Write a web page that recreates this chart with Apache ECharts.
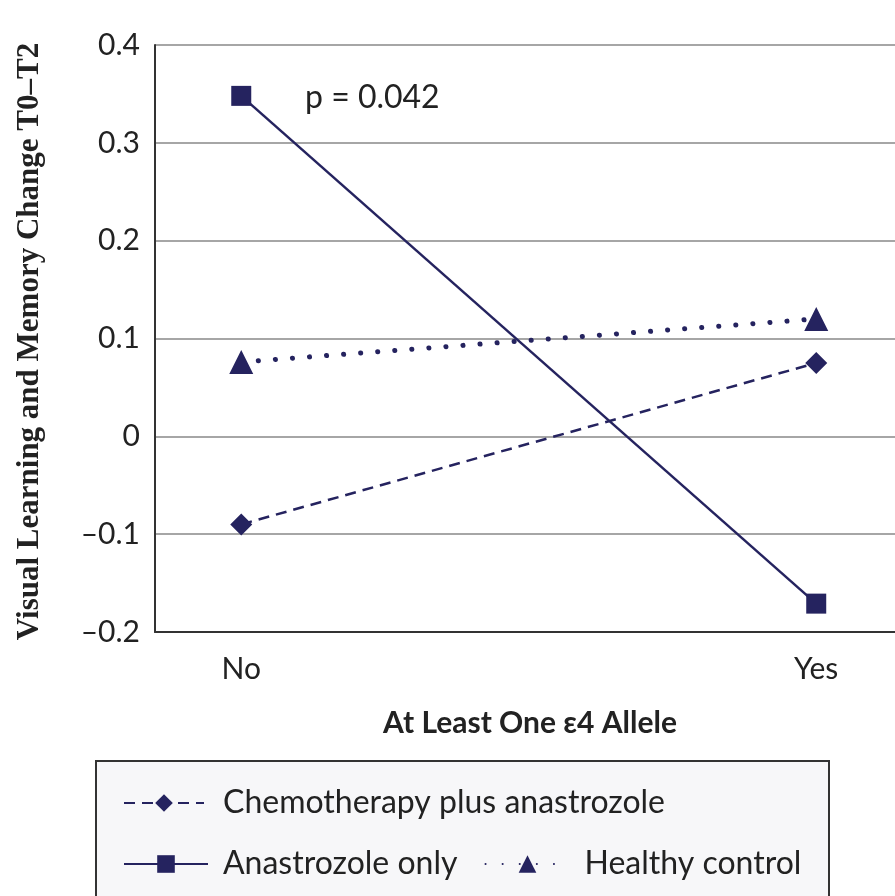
<!DOCTYPE html>
<html><head><meta charset="utf-8">
<script src="https://cdn.jsdelivr.net/npm/echarts@6/dist/echarts.min.js"></script>
<style>html,body{margin:0;padding:0;background:#fff}#c{width:895px;height:896px}</style>
</head><body><div id="c"></div>
<script>
const categories = ['No', 'Yes'];
const seriesNames = ['Chemotherapy plus anastrozole', 'Anastrozole only', 'Healthy control'];
const chemoValues = [-0.09, 0.075];
const anastrozoleValues = [0.348, -0.171];
const healthyValues = [0.076, 0.12];
const annotation = 'p = 0.042';
const xTitle = 'At Least One \u03b54 Allele';
const yTitle = 'Visual Learning and Memory Change T0\u2013T2';

const navy = '#25235f';
const font = 'Lato, "Open Sans", sans-serif';
const pts = vals => vals.map((v, i) => [i, v]);

const chart = echarts.init(document.getElementById('c'));
chart.setOption({
  animation: false,
  backgroundColor: '#fff',
  textStyle: {fontFamily: font},
  grid: {left: 155, right: 0, top: 45, bottom: 264, containLabel: false, outerBoundsMode: 'none'},
  xAxis: {
    type: 'value', min: -0.15, max: 1.137,
    axisLine: {show: true, onZero: false, lineStyle: {color: '#333', width: 2}},
    axisTick: {show: false},
    splitLine: {show: false},
    axisLabel: {customValues: [0, 1], formatter: v => categories[Math.round(v)] || '',
      fontSize: 30, color: '#222', margin: 22, fontFamily: font},
    name: xTitle, nameLocation: 'middle', nameGap: 76,
    nameTextStyle: {fontSize: 30, fontWeight: 'bold', color: '#222', fontFamily: font, padding: [0, 0, 0, 10]}
  },
  yAxis: {
    type: 'value', min: -0.2, max: 0.4, interval: 0.1,
    axisLine: {show: true, onZero: false, lineStyle: {color: '#333', width: 2}},
    axisTick: {show: false},
    splitLine: {show: true, lineStyle: {color: '#888', width: 1.5}},
    axisLabel: {fontSize: 30, color: '#222', margin: 15, fontFamily: font,
      formatter: v => { const r = Math.round(v * 10) / 10; return r === 0 ? '0' : (r < 0 ? '\u2013' + Math.abs(r).toFixed(1) : r.toFixed(1)); }},
    name: yTitle, nameLocation: 'middle', nameGap: 110, nameRotate: 90,
    nameTextStyle: {fontSize: 31, fontWeight: 'bold', color: '#222', fontFamily: '"Liberation Serif", serif', padding: [0, 6, 0, 0]}
  },
  legend: [
    {data: [seriesNames[0]], left: 118, top: 782, itemWidth: 80, itemHeight: 22, itemGap: 27,
      textStyle: {fontSize: 32, color: '#222', fontFamily: font, padding: [0, 0, 0, 14]}},
    {data: [seriesNames[1], seriesNames[2]], left: 118, top: 843, itemWidth: 84, itemHeight: 22, itemGap: 27,
      textStyle: {fontSize: 32, color: '#222', fontFamily: font, padding: [0, 0, 0, 10]}}
  ],
  graphic: [
    {type: 'rect', left: 95, top: 760, z: -1, shape: {width: 733, height: 150},
      style: {fill: '#f7f7f9', stroke: '#333', lineWidth: 2}},
    {type: 'text', left: 305, top: 82, style: {text: annotation, fontSize: 32, fill: '#222', fontFamily: font}}
  ],
  series: [
    {name: seriesNames[0], type: 'line', data: pts(chemoValues), symbol: 'diamond', symbolSize: 22,
      itemStyle: {color: navy}, lineStyle: {color: navy, width: 2.5, type: [11, 7]}},
    {name: seriesNames[1], type: 'line', data: pts(anastrozoleValues), symbol: 'rect', symbolSize: 20,
      itemStyle: {color: navy}, lineStyle: {color: navy, width: 2.5}},
    {name: seriesNames[2], type: 'line', data: pts(healthyValues), symbol: 'triangle', symbolSize: 24,
      itemStyle: {color: navy}, lineStyle: {color: navy, width: 5, type: [0.1, 17], cap: 'round'}}
  ]
});
</script></body></html>
